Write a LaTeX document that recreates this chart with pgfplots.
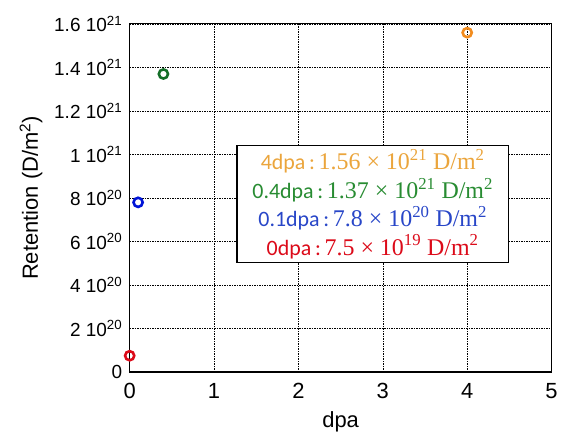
\documentclass[border=0pt]{standalone}
\usepackage{pgfplots}
\pgfplotsset{compat=1.18}
\usepackage{fontspec}
\setmainfont{Liberation Sans}
\newfontfamily\calib{Carlito}
\newfontfamily\numf{Liberation Serif}
\definecolor{cor}{RGB}{242,140,30}
\definecolor{corl}{RGB}{235,165,60}
\definecolor{cgr}{RGB}{20,110,40}
\definecolor{cgrl}{RGB}{40,140,50}
\definecolor{cbl}{RGB}{0,20,215}
\definecolor{cbll}{RGB}{40,70,200}
\definecolor{crd}{RGB}{220,10,25}
\newcommand{\val}[2]{{\numf\fontsize{24}{28.5}\selectfont #1 × 10\textsuperscript{#2} D/m\textsuperscript{2}}}
\begin{document}
\begin{tikzpicture}
\path (-130pt,-64pt) rectangle (431pt,373pt);
\begin{axis}[
  at={(0,0)}, anchor=south west,
  scale only axis, width=423pt, height=349pt,
  xmin=0, xmax=5, ymin=0, ymax=1.6e21,
  xtick={0,1,2,3,4,5},
  ytick={0,2e20,4e20,6e20,8e20,1e21,1.2e21,1.4e21,1.6e21},
  yticklabels={0,2 10\textsuperscript{20},4 10\textsuperscript{20},6 10\textsuperscript{20},8 10\textsuperscript{20},1 10\textsuperscript{21},1.2 10\textsuperscript{21},1.4 10\textsuperscript{21},1.6 10\textsuperscript{21}},
  scaled y ticks=false,
  tick style={draw=none},
  grid=major,
  major grid style={black, line width=0.6pt, dash pattern=on 1.5pt off 1pt},
  axis line style={black, line width=1.1pt},
  /pgf/number format/assume math mode=true,
  xticklabel style={font=\fontsize{22}{24}\selectfont, yshift=-8pt},
  yticklabel style={font=\fontsize{19}{21}\selectfont, xshift=-4pt},
  xlabel={dpa}, ylabel={Retention (D/m\textsuperscript{2})},
  label style={font=\fontsize{22}{25}\selectfont},
  xlabel style={yshift=-6pt},
  ylabel style={yshift=5pt},
  clip=false,
]
\addplot[only marks, mark=o, mark size=4.6pt, line width=2.6pt, cor] coordinates {(4,1.56e21)};
\addplot[only marks, mark=o, mark size=4.6pt, line width=2.6pt, cgr] coordinates {(0.4,1.37e21)};
\addplot[only marks, mark=o, mark size=4.6pt, line width=2.6pt, cbl] coordinates {(0.1,7.8e20)};
\addplot[only marks, mark=o, mark size=4.6pt, line width=2.6pt, crd] coordinates {(0,7.5e19)};
\node[draw=black, line width=1.3pt, fill=white, minimum width=272pt, minimum height=117pt, align=center, inner sep=2pt,
  font=\calib\fontsize{22}{28.5}\selectfont] at (axis cs:2.88,7.72e20) {%
  \textcolor{corl}{4dpa\,:\,\val{1.56}{21}}\\
  \textcolor{cgrl}{0.4dpa\,:\,\val{1.37}{21}}\\
  \textcolor{cbll}{0.1dpa\,:\,\val{7.8}{20}}\\
  \textcolor{crd}{0dpa\,:\,\val{7.5}{19}}};
\end{axis}
\end{tikzpicture}
\end{document}
